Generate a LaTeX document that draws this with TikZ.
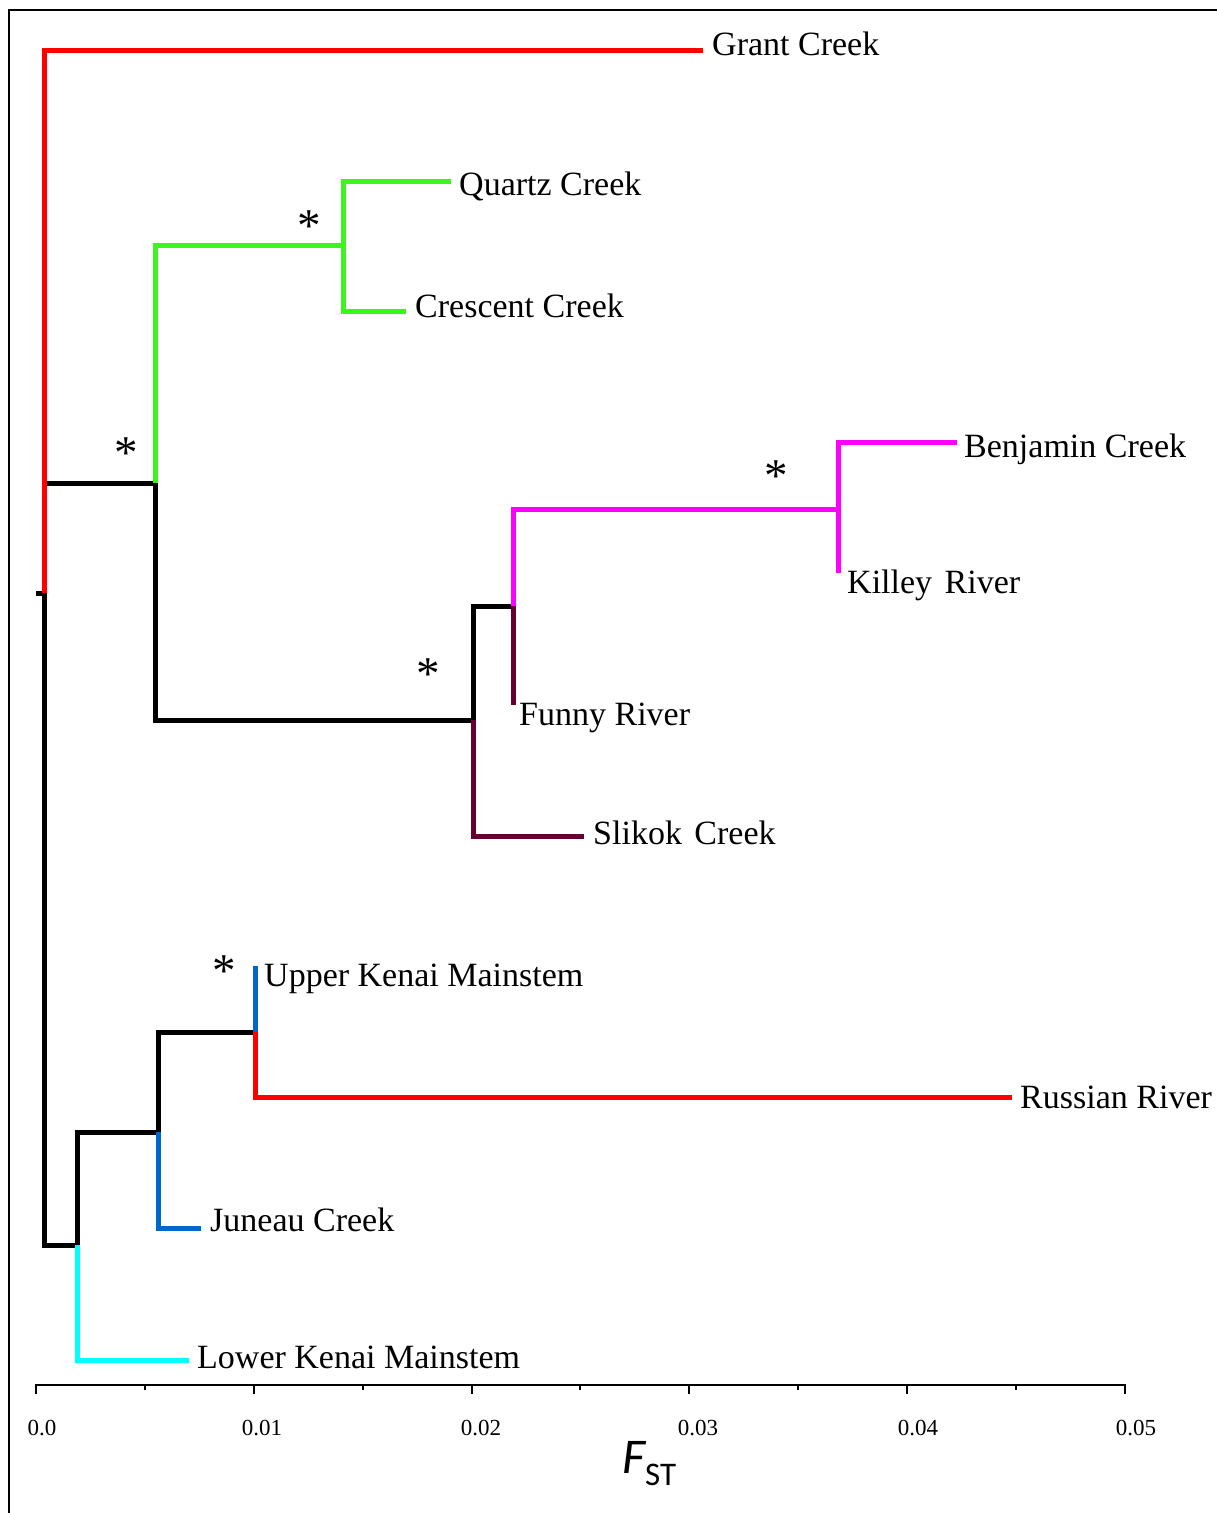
\documentclass[tikz,border=0pt]{standalone}
\usepackage{fontspec}
\setmainfont{Liberation Serif}
\newfontfamily\calibfont{Carlito}
\definecolor{cred}{RGB}{255,0,0}
\definecolor{cgreen}{RGB}{60,245,30}
\definecolor{cmag}{RGB}{255,0,255}
\definecolor{cmaroon}{RGB}{102,0,51}
\definecolor{cblue}{RGB}{0,102,204}
\definecolor{ccyan}{RGB}{0,255,255}
\begin{document}
\begin{tikzpicture}[x=1pt,y=-1pt,
  br/.style={line width=5pt, line join=miter},
  lab/.style={anchor=base west, inner sep=0pt, font=\fontsize{34}{40}\selectfont},
  starlab/.style={anchor=base, inner sep=0pt, font=\fontsize{47}{50}\selectfont},
  ticklab/.style={anchor=base, inner sep=0pt, font=\fontsize{23}{26}\selectfont},
  axisline/.style={line width=2.5pt},
  frameline/.style={line width=2.5pt}]
\useasboundingbox (0,0) rectangle (1217,1513);
\draw[frameline] (9,1513) -- (9,10) -- (1217,10);

% coordinates of the tree
\coordinate (r0) at (36,593);
\coordinate (r) at (44,593);
\coordinate (g1) at (44,50);
\coordinate (gT) at (703,50);
\coordinate (a) at (44,483);
\coordinate (b) at (155,483);
\coordinate (b1) at (155,245);
\coordinate (c) at (343,245);
\coordinate (c1) at (343,181);
\coordinate (qT) at (451,181);
\coordinate (c2) at (343,311);
\coordinate (crT) at (406,311);
\coordinate (b2) at (155,720);
\coordinate (d) at (473,720);
\coordinate (d1) at (473,606);
\coordinate (e) at (513,606);
\coordinate (d2) at (473,836);
\coordinate (sT) at (584,836);
\coordinate (e1) at (513,509);
\coordinate (f) at (838,509);
\coordinate (eF) at (513,705);
\coordinate (f1) at (838,442);
\coordinate (bT) at (957,442);
\coordinate (f2) at (838,573);
\coordinate (h) at (44,1245);
\coordinate (i) at (77,1245);
\coordinate (i1) at (77,1132);
\coordinate (j) at (158,1132);
\coordinate (i2) at (77,1360);
\coordinate (lT) at (189,1360);
\coordinate (j1) at (158,1032);
\coordinate (k) at (255,1032);
\coordinate (j2) at (158,1228);
\coordinate (juT) at (201,1228);
\coordinate (k1) at (255,966);
\coordinate (k2) at (255,1097);
\coordinate (ruT) at (1012,1097);

% black branches
\draw[br] (r0) -- (r) -- (h) -- (i) -- (i1) -- (j) -- (j1) -- (k);
\draw[br] (a) -- (b) -- (b2) -- (d) -- (d1) -- (e);
% coloured branches
\draw[br,cred] (gT) -- (g1) -- (r);
\draw[br,cgreen] (b) -- (b1) -- (c);
\draw[br,cgreen] (qT) -- (c1) -- (c2) -- (crT);
\draw[br,cmaroon] (d) -- (d2) -- (sT);
\draw[br,cmaroon] (e) -- (eF);
\draw[br,cmag] (e) -- (e1) -- (f);
\draw[br,cmag] (bT) -- (f1) -- (f2);
\draw[br,ccyan] (i) -- (i2) -- (lT);
\draw[br,cblue] (j) -- (j2) -- (juT);
\draw[br,cblue] (k) -- (k1);
\draw[br,cred] (k) -- (k2) -- (ruT);

% labels
\node[lab] (nGrant) at (712,55) {Grant Creek};
\node[lab] (nQuartz) at (459,195) {Quartz Creek};
\node[lab] (nCrescent) at (415,317) {Crescent Creek};
\node[lab] (nBenjamin) at (964,457) {Benjamin Creek};
\node[lab] (nKilley) at (847,593) {Killey\hspace{4pt} River};
\node[lab] (nFunny) at (519,725) {Funny River};
\node[lab] (nSlikok) at (593,844) {Slikok\hspace{4pt} Creek};
\node[lab] (nUpper) at (264,986) {Upper Kenai Mainstem};
\node[lab] (nRussian) at (1020,1108) {Russian River};
\node[lab] (nJuneau) at (210,1231) {Juneau Creek};
\node[lab] (nLower) at (197,1368) {Lower Kenai Mainstem};

% stars
\node[starlab] (s1) at (309,241) {*};
\node[starlab] (s2) at (126,468) {*};
\node[starlab] (s3) at (428,689) {*};
\node[starlab] (s4) at (776,491) {*};
\node[starlab] (s5) at (224,986) {*};

% axis
\draw[axisline] (36,1394) -- (36,1385) -- (1125,1385) -- (1125,1394);
\foreach \xx in {254,472,689,907} \draw[axisline] (\xx,1385) -- (\xx,1394);
\foreach \xx in {145,363,580,798,1016} \draw[axisline] (\xx,1385) -- (\xx,1390);
\node[ticklab] (t0) at (42,1435) {0.0};
\node[ticklab] (t1) at (262,1435) {0.01};
\node[ticklab] (t2) at (481,1435) {0.02};
\node[ticklab] (t3) at (698,1435) {0.03};
\node[ticklab] (t4) at (918,1435) {0.04};
\node[ticklab] (t5) at (1136,1435) {0.05};
\node[anchor=base west, inner sep=0pt, font=\calibfont\itshape\fontsize{50}{56}\selectfont] (fF) at (622,1473) {F};
\node[anchor=base west, inner sep=0pt, font=\calibfont\fontsize{33}{36}\selectfont] (fST) at (645,1485) {ST};
\end{tikzpicture}
\end{document}
